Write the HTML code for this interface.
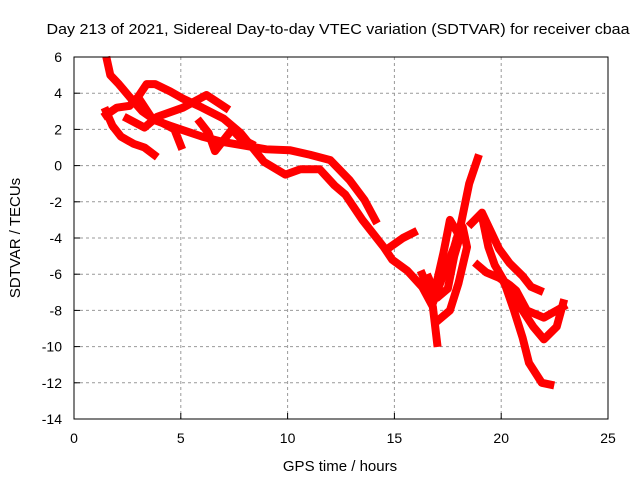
<!DOCTYPE html>
<html><head><meta charset="utf-8"><style>
body{margin:0;background:#fff;}
svg{display:block;font-family:"Liberation Sans",sans-serif;}
</style></head><body>
<svg id="chart" width="640" height="480" viewBox="0 0 640 480" xmlns="http://www.w3.org/2000/svg">
<rect width="640" height="480" fill="#fff"/>
<g id="grid"></g>
<g id="tracks"></g>
<rect x="74" y="57" width="534" height="362" fill="none" stroke="#000" stroke-width="1"/>
<g id="axes"></g>
<text x="338" y="34" font-size="15" text-anchor="middle" textLength="583" lengthAdjust="spacingAndGlyphs">Day 213 of 2021, Sidereal Day-to-day VTEC variation (SDTVAR) for receiver cbaa</text>
<text x="340" y="471" font-size="15" text-anchor="middle">GPS time / hours</text>
<text transform="translate(20,238) rotate(-90)" font-size="15" text-anchor="middle">SDTVAR / TECUs</text>
</svg>
<script>
const xTicks=[0,5,10,15,20,25];
const yTicks=[6,4,2,0,-2,-4,-6,-8,-10,-12,-14];
const track1=[[1.55,5.8],[1.7,5.0],[2.1,4.5],[2.6,3.8],[3.2,3.0],[3.8,2.5],[4.5,2.2],[5.0,2.0],[6.0,1.6],[7.0,1.3],[8.0,1.1],[9.0,0.9],[10.1,0.85],[11.05,0.6],[12.0,0.3],[12.9,-0.8],[13.6,-1.9],[14.1,-3.0]];
const track2=[[1.5,3.0],[1.8,2.2],[2.2,1.6],[2.8,1.2],[3.3,1.0],[3.75,0.6]];
const track3=[[1.5,2.8],[2.0,3.2],[2.6,3.3],[3.0,3.8],[3.4,4.5],[3.8,4.5],[4.5,4.1],[5.1,3.7],[6.0,3.2],[7.0,2.6],[7.8,1.8],[8.9,0.2],[9.9,-0.5],[10.6,-0.2],[11.5,-0.2],[12.2,-1.1],[12.7,-1.6],[13.5,-3.0],[14.5,-4.5],[14.9,-5.2],[15.6,-5.8],[16.3,-6.7],[16.8,-7.8],[17.0,-9.8]];
const track4=[[2.5,2.6],[3.3,2.1],[3.9,2.7],[5.1,3.2],[6.2,3.9],[7.1,3.2]];
const track5=[[3.1,3.6],[3.6,2.7],[4.7,2.0],[5.0,1.1]];
const track6=[[5.9,2.4],[6.3,1.8],[6.6,0.8],[7.0,1.4],[7.4,2.0],[7.8,1.5],[8.3,1.2]];
const track7=[[14.8,-4.5],[15.4,-4.0],[15.9,-3.7]];
const track8=[[16.8,-7.6],[17.3,-6.0],[17.8,-4.5],[18.1,-3.3],[18.5,-1.0],[18.9,0.4]];
const track9=[[16.6,-6.2],[17.0,-7.3],[17.5,-6.8],[17.8,-5.0],[18.2,-3.4],[18.4,-4.5],[18.0,-6.5],[17.6,-8.0],[17.0,-8.6]];
const track10=[[16.3,-6.0],[16.8,-7.4],[17.3,-4.8],[17.6,-3.0],[17.9,-3.6]];
const track11=[[18.6,-3.2],[19.1,-2.6],[19.5,-3.6],[19.9,-4.6],[20.4,-5.4],[21.0,-6.1],[21.4,-6.7],[21.8,-6.9]];
const track12=[[19.1,-2.8],[19.4,-4.5],[19.7,-5.5],[20.1,-6.3],[20.6,-8.0],[21.0,-9.5],[21.3,-10.9],[21.9,-12.0],[22.3,-12.1]];
const track13=[[18.9,-5.5],[19.3,-5.9],[19.9,-6.2],[20.4,-6.6],[20.7,-6.9],[21.2,-8.0],[22.0,-8.4],[22.9,-7.8]];
const track14=[[20.1,-6.4],[20.6,-7.5],[21.0,-8.0],[21.5,-8.9],[22.0,-9.6],[22.6,-8.9],[22.9,-7.6]];
const tracks=[track1,track2,track3,track4,track5,track6,track7,track8,track9,track10,track11,track12,track13,track14];
const X0=74,X1=608,Y0=57,Y1=419,XMIN=0,XMAX=25,YMIN=-14,YMAX=6;
function xs(v){return X0+(v-XMIN)/(XMAX-XMIN)*(X1-X0);}
function ys(v){return Y1-(v-YMIN)/(YMAX-YMIN)*(Y1-Y0);}
const NS="http://www.w3.org/2000/svg";
function mk(t,a){const e=document.createElementNS(NS,t);for(const k in a)e.setAttribute(k,a[k]);return e;}
const grid=document.getElementById('grid'),axes=document.getElementById('axes'),tg=document.getElementById('tracks');
xTicks.forEach(t=>{
  const x=xs(t);
  if(t>XMIN&&t<XMAX){const g=mk('line',{x1:x,x2:x,y1:Y0,y2:Y1,stroke:'#999','stroke-dasharray':'3,3'});
  
  
  grid.appendChild(g);}
  const tk=mk('line',{x1:x,x2:x,y1:Y1,y2:Y1-6,stroke:'#000'});
  
  
  axes.appendChild(tk);
  const l=mk('text',{x:x,y:443,'font-size':14,'text-anchor':'middle'});l.textContent=t;
  
  
  axes.appendChild(l);
});
yTicks.forEach(t=>{
  const y=ys(t);
  if(t>YMIN&&t<YMAX){const g=mk('line',{x1:X0,x2:X1,y1:y,y2:y,stroke:'#999','stroke-dasharray':'3,3'});
  
  
  grid.appendChild(g);}
  const tk=mk('line',{x1:X0,x2:X0+6,y1:y,y2:y,stroke:'#000'});
  
  
  axes.appendChild(tk);
  const l=mk('text',{x:62,y:y+5,'font-size':14,'text-anchor':'end'});l.textContent=t;
  
  
  axes.appendChild(l);
});
tracks.forEach((tr,i)=>{
  const p=mk('polyline',{points:tr.map(d=>xs(d[0])+','+ys(d[1])).join(' '),fill:'none',stroke:'#f00','stroke-width':8,'stroke-linejoin':'round','stroke-linecap':'square'});
  
  
  tg.appendChild(p);
});
</script>
</body></html>
